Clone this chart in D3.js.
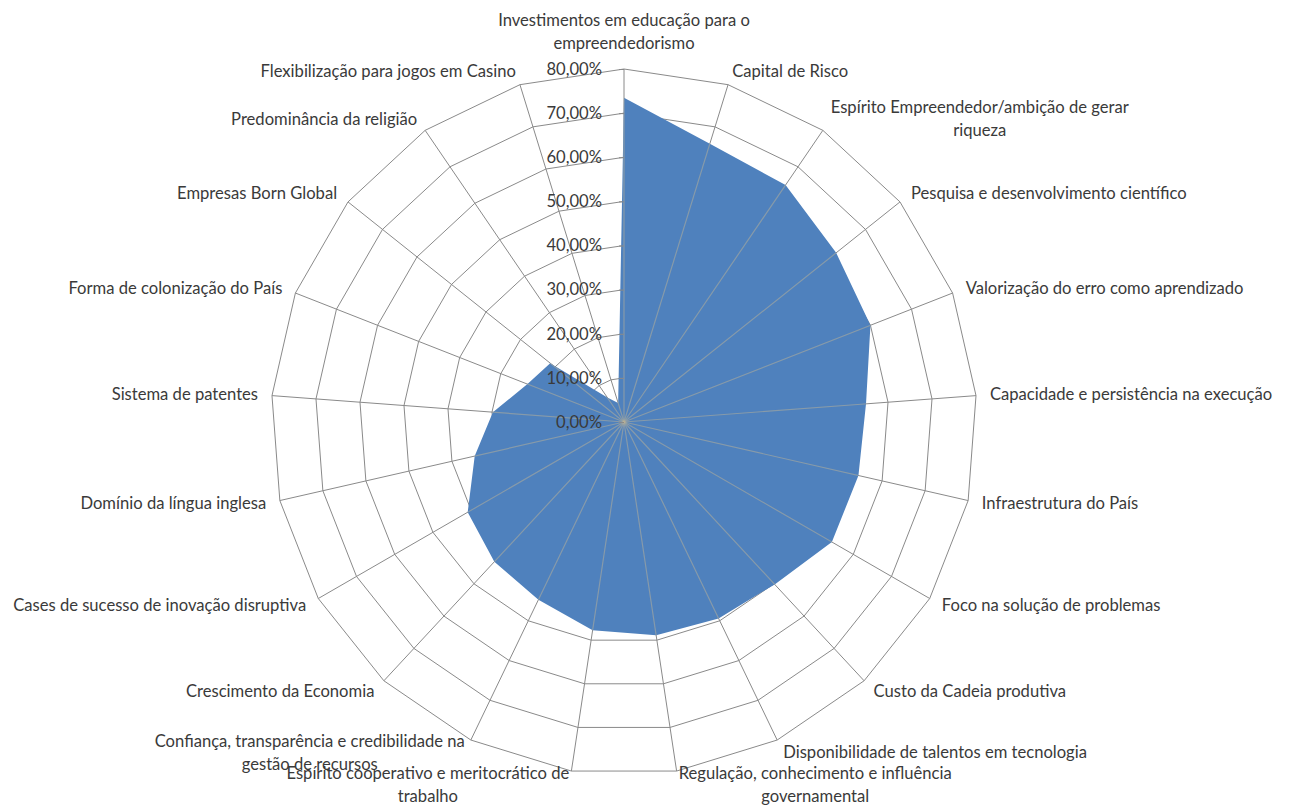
<!DOCTYPE html>
<html>
<head>
<meta charset="utf-8">
<script src="https://cdn.jsdelivr.net/npm/d3@7"></script>
<style>
  body { margin: 0; background: #ffffff; }
  svg text { font-family: Lato, "Noto Sans", sans-serif; fill: #3a3a3a; }
</style>
</head>
<body>
<svg id="chart" width="1290" height="805"></svg>
<script>
// Factors, clockwise from the top
const categories = [
  "Investimentos em educação para o empreendedorismo",
  "Capital de Risco",
  "Espírito Empreendedor/ambição de gerar riqueza",
  "Pesquisa e desenvolvimento científico",
  "Valorização do erro como aprendizado",
  "Capacidade e persistência na execução",
  "Infraestrutura do País",
  "Foco na solução de problemas",
  "Custo da Cadeia produtiva",
  "Disponibilidade de talentos em tecnologia",
  "Regulação, conhecimento e influência governamental",
  "Espírito cooperativo e meritocrático de trabalho",
  "Confiança, transparência e credibilidade na gestão de recursos",
  "Crescimento da Economia",
  "Cases de sucesso de inovação disruptiva",
  "Domínio da língua inglesa",
  "Sistema de patentes",
  "Forma de colonização do País",
  "Empresas Born Global",
  "Predominância da religião",
  "Flexibilização para jogos em Casino"
];

// Share of answers per factor (%)
const values = [73.5, 66, 65, 61.5, 60, 55, 54.5, 54.4, 50.2, 49.4, 48.9,
                47.7, 44.7, 43.2, 40.9, 34.7, 29.8, 23.5, 21.4, 6.7, 4.5];

const tickValues = [0, 10, 20, 30, 40, 50, 60, 70, 80];
const tickLabels = ["0,00%", "10,00%", "20,00%", "30,00%", "40,00%",
                    "50,00%", "60,00%", "70,00%", "80,00%"];

const cx = 624, cy = 422, R = 353;
const fontSize = 16.6;
const labelGap = 14, lineHeight = 23.5, wrapWidth = 330;

const svg = d3.select("#chart");
const n = categories.length;
const angle = d3.scaleLinear().domain([0, n]).range([0, 2 * Math.PI]);
const r = d3.scaleLinear().domain([0, 80]).range([0, R]);

const g = svg.append("g").attr("transform", `translate(${cx},${cy})`);

const radial = d3.lineRadial()
  .angle((d, i) => angle(i))
  .radius(d => r(d))
  .curve(d3.curveLinearClosed);

const point = (i, v) => [Math.sin(angle(i)) * r(v), -Math.cos(angle(i)) * r(v)];

// Concentric grid polygons
g.append("g").selectAll("path")
  .data(tickValues.slice(1))
  .join("path")
  .attr("d", t => radial(categories.map(() => t)))
  .attr("fill", "none")
  .attr("stroke", "#8a8a8a")
  .attr("stroke-width", 1);

// Spokes
g.append("g").selectAll("line")
  .data(d3.range(n))
  .join("line")
  .attr("x1", 0).attr("y1", 0)
  .attr("x2", i => point(i, 80)[0])
  .attr("y2", i => point(i, 80)[1])
  .attr("stroke", "#8a8a8a")
  .attr("stroke-width", 1);

// Filled series
const areaPath = radial(values);
g.append("path")
  .attr("d", areaPath)
  .attr("fill", "#4f81bd");

// Spokes showing through the filled area
g.append("clipPath").attr("id", "areaClip")
  .append("path").attr("d", areaPath);
g.append("g").attr("clip-path", "url(#areaClip)")
  .selectAll("line")
  .data(d3.range(n))
  .join("line")
  .attr("x1", 0).attr("y1", 0)
  .attr("x2", i => point(i, 80)[0])
  .attr("y2", i => point(i, 80)[1])
  .attr("stroke", "#bdb497")
  .attr("stroke-opacity", 0.5)
  .attr("stroke-width", 1.2);

// Value axis along the first spoke
const yAxisScale = d3.scaleLinear().domain([0, 80]).range([0, -R]);
const axis = g.append("g")
  .call(d3.axisLeft(yAxisScale)
    .tickValues(tickValues)
    .tickFormat((d, i) => tickLabels[i])
    .tickSize(5)
    .tickPadding(17));
axis.select(".domain").remove();
axis.selectAll(".tick line").attr("stroke", "#8a8a8a");
axis.selectAll(".tick text")
  .attr("font-size", fontSize)
  .style("font-family", "Lato, 'Noto Sans', sans-serif")
  .attr("fill", "#3a3a3a");

// Category labels
const measurer = svg.append("text").attr("font-size", fontSize).attr("visibility", "hidden");
const textWidth = s => { measurer.text(s); return measurer.node().getComputedTextLength(); };

function wrapWords(label) {
  const words = label.split(" ");
  const lines = [];
  let cur = words[0];
  for (let k = 1; k < words.length; k++) {
    const trial = cur + " " + words[k];
    if (textWidth(trial) > wrapWidth) { lines.push(cur); cur = words[k]; }
    else cur = trial;
  }
  lines.push(cur);
  return lines;
}

g.append("g").selectAll("g")
  .data(categories)
  .join("g")
  .each(function (label, i) {
    const a = angle(i), s = Math.sin(a), c = Math.cos(a);
    const ax = s * (R + labelGap), ay = -c * (R + labelGap);
    const lines = wrapWords(label);
    const blockW = d3.max(lines, l => textWidth(l));
    const blockH = lines.length * lineHeight;
    let centerX, centerY = ay;
    if (Math.abs(s) < 0.02) {
      centerX = ax;
      centerY = ay - Math.sign(c) * blockH / 2;
    } else if (s > 0) {
      centerX = ax + blockW / 2;
    } else {
      centerX = ax - blockW / 2;
    }
    const top = centerY - blockH / 2;
    d3.select(this).selectAll("text")
      .data(lines)
      .join("text")
      .attr("x", centerX)
      .attr("y", (l, k) => top + lineHeight * (k + 0.5))
      .attr("dy", "0.35em")
      .attr("text-anchor", "middle")
      .attr("font-size", fontSize)
      .text(l => l);
  });
measurer.remove();
</script>
</body>
</html>
